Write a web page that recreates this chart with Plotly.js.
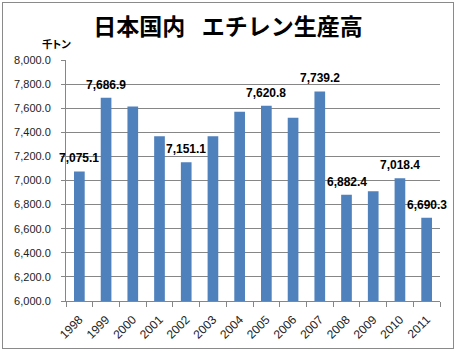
<!DOCTYPE html>
<html>
<head>
<meta charset="utf-8">
<script src="https://cdn.plot.ly/plotly-3.0.1.min.js"></script>
<style>
  html, body { margin: 0; padding: 0; background: #fff; }
  #wrap { position: relative; width: 456px; height: 351px; }
  #chart { width: 456px; height: 351px; }
  #frame { position: absolute; left: 2px; top: 2px; width: 450px; height: 345px;
           border: 1px solid #8a8a8a; pointer-events: none; }
  .annotation-text { font-feature-settings: "palt"; }
</style>
</head>
<body>
<div id="wrap"><div id="chart"></div><div id="frame"></div></div>
<script>
const years = ["1998","1999","2000","2001","2002","2003","2004","2005","2006","2007","2008","2009","2010","2011"];
const production = [7075.1, 7686.9, 7614, 7367, 7151.1, 7367, 7570, 7620.8, 7520, 7739.2, 6882.4, 6910, 7018.4, 6690.3];
const labeledYears = ["1998","1999","2002","2005","2007","2008","2010","2011"];
const titleText = "日本国内\u2002 エチレン生産高";
const unitText = "千トン";

const numFont = "Liberation Sans, Arial, sans-serif";

const annotations = [];
years.forEach((y, i) => {
  if (labeledYears.includes(y)) {
    annotations.push({
      x: i, y: production[i], xref: "x", yref: "y",
      text: production[i].toLocaleString("en-US", {minimumFractionDigits: 1, maximumFractionDigits: 1}),
      showarrow: false, yanchor: "bottom", yshift: 4,
      font: {family: numFont, size: 12, color: "#000", weight: "bold"}
    });
  }
});
annotations.push({
  text: "<b>" + unitText + "</b>", xref: "paper", yref: "paper", x: 0, y: 1,
  xanchor: "right", yanchor: "bottom", xshift: 7, yshift: 7, showarrow: false,
  font: {family: "Noto Sans CJK JP, sans-serif", size: 10.5, color: "#000"}
});

const trace = {
  type: "bar", x: years, y: production,
  marker: {color: "#4F81BD"},
  hoverinfo: "x+y"
};

const layout = {
  width: 456, height: 351,
  margin: {l: 66, r: 16, t: 60, b: 50, pad: 0},
  paper_bgcolor: "#fff", plot_bgcolor: "#fff",
  title: {text: titleText, x: 0.5, xref: "container", xanchor: "center", y: 0.922, yanchor: "middle",
          font: {family: "Noto Sans CJK JP, sans-serif", size: 23, color: "#000", weight: "bold"}},
  bargap: 0.6,
  showlegend: false,
  xaxis: {
    type: "category", tickangle: -45, tickson: "boundaries",
    range: [-0.5, 13.5],
    ticks: "outside", ticklen: 5, tickcolor: "#868686",
    showline: true, linecolor: "#868686", linewidth: 1,
    ticklabelstandoff: 6,
    tickfont: {family: numFont, size: 12, color: "#222"},
    showgrid: false
  },
  yaxis: {
    range: [6000, 8000], dtick: 200, tick0: 6000, tickformat: ",.1f",
    ticks: "outside", ticklen: 4, tickcolor: "#868686",
    showline: true, linecolor: "#868686", linewidth: 1,
    showgrid: true, gridcolor: "#868686", gridwidth: 1,
    zeroline: false, ticklabelstandoff: 8,
    tickfont: {family: numFont, size: 11, color: "#222"}
  },
  annotations: annotations
};

Plotly.newPlot("chart", [trace], layout, {displayModeBar: false, staticPlot: true});
</script>
</body>
</html>
